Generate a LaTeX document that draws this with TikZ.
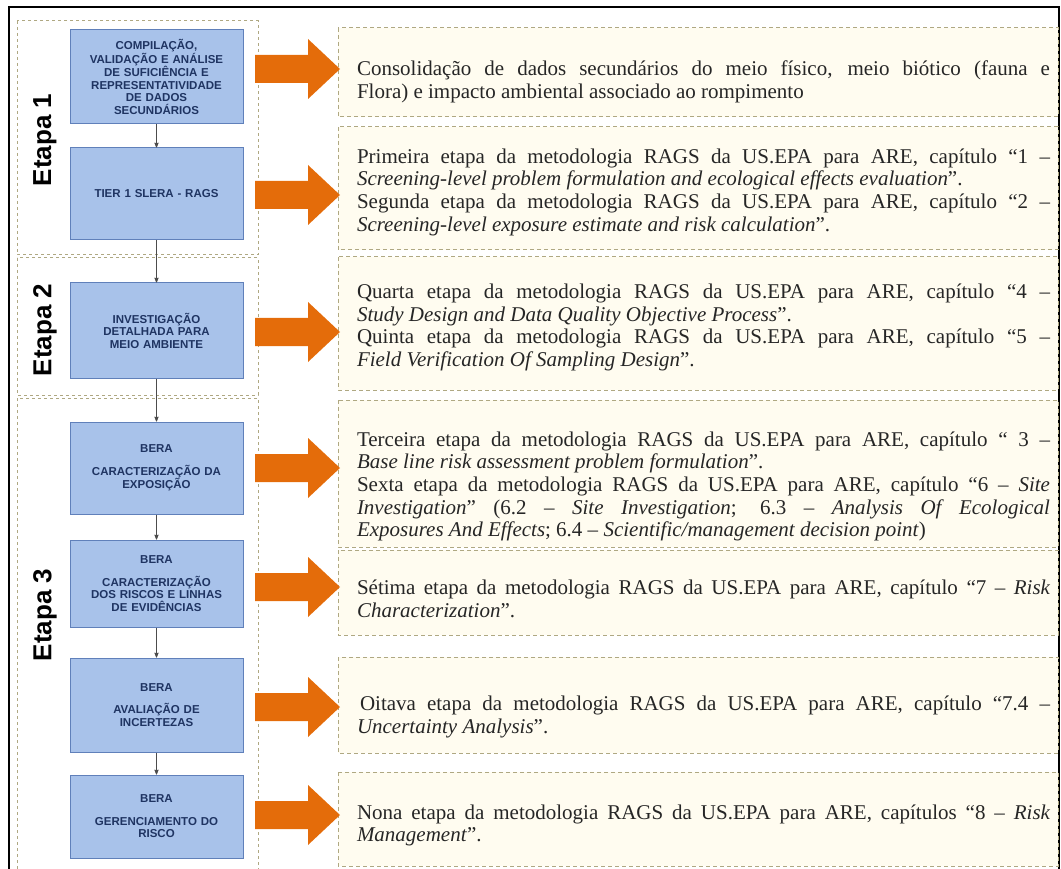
\documentclass[tikz,border=0pt]{standalone}
\usepackage{fontspec}
\setmainfont{Liberation Serif}
\setsansfont{Liberation Sans}
\usetikzlibrary{arrows}
\definecolor{azulcaixa}{RGB}{168,194,234}
\definecolor{azulborda}{RGB}{96,128,186}
\definecolor{azultexto}{RGB}{31,52,98}
\definecolor{laranja}{RGB}{228,108,10}
\definecolor{creme}{RGB}{255,252,240}
\definecolor{tracejado}{RGB}{175,168,130}
\tikzset{
	>=stealth',
	bloco/.style={
		rectangle,
		draw=azulborda, line width=1pt,
		fill=azulcaixa,
		minimum width=173pt,
		text width=168pt,
		align=center,
		inner sep=0pt,
		text=azultexto,
		font=\sffamily\bfseries\fontsize{11.5}{12.5}\selectfont},
	seta/.style={draw, thick, ->, black!70},
	etapabox/.style={draw=tracejado, line width=1pt, dash pattern=on 3pt off 3pt},
	caixa/.style={draw=tracejado, fill=creme, line width=1pt, dash pattern=on 4pt off 3pt},
	texto/.style={
		text width=693pt,
		align=justify,
		inner sep=0pt,
		text=black!85,
		font=\fontsize{21}{22.7}\selectfont},
	etapa/.style={rotate=90, font=\sffamily\bfseries\fontsize{26}{26}\selectfont},
	setagrande/.pic={
		\fill[laranja] (0,-14) -- (53,-14) -- (53,-30) -- (85,0) -- (53,30) -- (53,14) -- (0,14) -- cycle;},
}
\begin{document}
\begin{tikzpicture}[x=1pt, y=-1pt]
	\useasboundingbox (0,0) rectangle (1061,869);
	% moldura
	\draw[line width=2pt] (9,869) -- (9,7) -- (1059,7) -- (1059,869);
	% etapas
	\draw[etapabox] (17,21) rectangle (258,255);
	\draw[etapabox] (17,258) rectangle (258,395);
	\draw[etapabox] (17,869) -- (17,398) -- (258,398) -- (258,869);
	\node[etapa] (etapaI) at (45,140) {Etapa 1};
	\node[etapa] (etapaII) at (45,330) {Etapa 2};
	\node[etapa] (etapaIII) at (45,615) {Etapa 3};
	% blocos
	\node[bloco, minimum height=94pt] (comp) at (156.5,77)
		{COMPILAÇÃO,\\VALIDAÇÃO E ANÁLISE\\DE SUFICIÊNCIA E\\REPRESENTATIVIDADE\\DE DADOS\\SECUNDÁRIOS};
	\node[bloco, minimum height=92pt] (tier) at (156.5,194) {TIER 1 SLERA - RAGS};
	\node[bloco, minimum height=95pt] (invest) at (156.5,330.5)
		{INVESTIGAÇÃO\\DETALHADA PARA\\MEIO AMBIENTE};
	\node[bloco, minimum height=92pt] (expo) at (156.5,468)
		{BERA\\[10pt]CARACTERIZAÇÃO DA\\EXPOSIÇÃO};
	\node[bloco, minimum height=87pt] (risco) at (156.5,583.5)
		{BERA\\[10pt]CARACTERIZAÇÃO\\DOS RISCOS E LINHAS\\DE EVIDÊNCIAS};
	\node[bloco, minimum height=94pt] (incert) at (156.5,705)
		{BERA\\[10pt]AVALIAÇÃO DE\\INCERTEZAS};
	\node[bloco, minimum height=83pt] (gerenc) at (156.5,816.5)
		{BERA\\[10pt]GERENCIAMENTO DO\\RISCO};
	\draw[seta] (comp) -- (tier);
	\draw[seta] (tier) -- (invest);
	\draw[seta] (invest) -- (expo);
	\draw[seta] (expo) -- (risco);
	\draw[seta] (risco) -- (incert);
	\draw[seta] (incert) -- (gerenc);
	% caixas de texto
	\draw[caixa] (338,28) rectangle (1058,117);
	\draw[caixa] (338,127) rectangle (1058,250);
	\draw[caixa] (338,257) rectangle (1058,390);
	\draw[caixa] (338,400) rectangle (1058,547);
	\draw[caixa] (338,550) rectangle (1058,635);
	\draw[caixa] (338,657) rectangle (1058,753);
	\draw[caixa] (338,772) rectangle (1058,866);
	\node[texto] (txtA) at (703.5,82)
		{Consolidação de dados secundários do meio físico, meio biótico (fauna e\linebreak
		Flora) e impacto ambiental associado ao rompimento};
	\node[texto] (txtB) at (703.5,192)
		{Primeira etapa da metodologia RAGS da US.EPA para ARE, capítulo “1 –\linebreak
		\textit{Screening-level problem formulation and ecological effects evaluation}”.\par
		Segunda etapa da metodologia RAGS da US.EPA para ARE, capítulo “2 –\linebreak
		\textit{Screening-level exposure estimate and risk calculation}”.};
	\node[texto] (txtC) at (703.5,327.5)
		{Quarta etapa da metodologia RAGS da US.EPA para ARE, capítulo “4 –\linebreak
		\textit{Study Design and Data Quality Objective Process}”.\par
		Quinta etapa da metodologia RAGS da US.EPA para ARE, capítulo “5 –\linebreak
		\textit{Field Verification Of Sampling Design}”.};
	\node[texto] (txtD) at (703.5,486.5)
		{Terceira etapa da metodologia RAGS da US.EPA para ARE, capítulo “ 3 –\linebreak
		\textit{Base line risk assessment problem formulation}”.\par
		Sexta etapa da metodologia RAGS da US.EPA para ARE, capítulo “6 – \textit{Site\linebreak
		Investigation}” (6.2 – \textit{Site Investigation}; 6.3 – \textit{Analysis Of Ecological\linebreak
		Exposures And Effects}; 6.4 – \textit{Scientific/management decision point})};
	\node[texto] (txtE) at (703.5,598.5)
		{Sétima etapa da metodologia RAGS da US.EPA para ARE, capítulo “7 – \textit{Risk\linebreak
		Characterization}”.};
	\node[texto] (txtF) at (703.5,717)
		{\hspace{3pt}Oitava etapa da metodologia RAGS da US.EPA para ARE, capítulo “7.4 –\linebreak
		\textit{Uncertainty Analysis}”.};
	\node[texto] (txtG) at (703.5,825.5)
		{Nona etapa da metodologia RAGS da US.EPA para ARE, capítulos “8 – \textit{Risk\linebreak
		Management}”.};
	% setas laranja
	\pic at (255,69) {setagrande};
	\pic at (255,195) {setagrande};
	\pic at (255,332) {setagrande};
	\pic at (255,468) {setagrande};
	\pic at (255,587) {setagrande};
	\pic at (255,707) {setagrande};
	\pic at (255,815) {setagrande};
\end{tikzpicture}
\end{document}
